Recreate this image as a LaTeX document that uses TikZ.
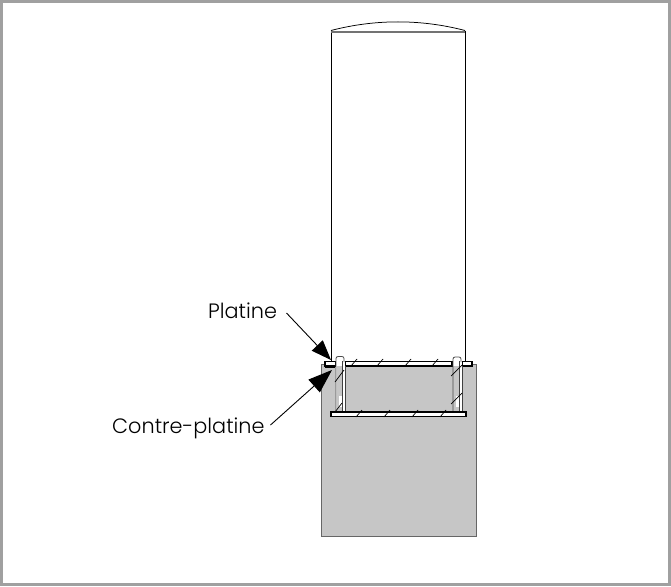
\documentclass[tikz,border=0pt]{standalone}
\usepackage{fontspec}
\setmainfont{Poppins}[UprightFont=* Light]
\usetikzlibrary{arrows.meta}
\definecolor{conc}{RGB}{198,198,198}
\definecolor{frameg}{RGB}{160,160,160}
\tikzset{
  part/.style={draw=black,line width=1.1pt,line join=miter},
  wall/.style={draw=black,line width=0.75pt},
  thin part/.style={draw=black!70,line width=0.8pt},
  rodline/.style={draw=black!75,line width=0.9pt},
  tick/.style={draw=black,line width=0.7pt},
  leader/.style={draw=black,line width=0.9pt},
  tipa/.style={-{Triangle[length=20pt,width=15pt]}},
  tipb/.style={-{Triangle[length=24pt,width=17pt]}},
  lab/.style={font=\fontsize{20.8pt}{24pt}\selectfont,text=black,inner sep=0pt}
}
\begin{document}
\begin{tikzpicture}[x=1pt,y=-1pt]
\useasboundingbox (0,0) rectangle (671,586);
\draw[frameg,line width=3pt] (1.5,1.5) rectangle (669.5,584.5);
% concrete block
\fill[conc] (321,364) rectangle (476,536);
\draw[black!60,line width=1pt] (321,364) rectangle (476,536);
% tube
\draw[wall] (331,361) -- (331,31);
\draw[wall] (465,361) -- (465,31);
\draw[black!55,line width=2pt] (331,32.5) -- (465,32.5);
\draw[wall] (331,30.5) .. controls (375,19) and (421,19) .. (465,30.5);
% top plate
\draw[part,fill=white] (345,361.5) rectangle (452,366);
\draw[part,fill=white] (462,361.5) rectangle (472,366);
\draw[part,fill=white] (325,361.5) rectangle (336,366);
\fill[black] (325,365) rectangle (335,367.5);
% rods: white bodies
\fill[white] (336,358) rectangle (345,412);
\fill[white] (452.5,358) rectangle (462,412);
\fill[conc] (337,366) rectangle (342,396);
\fill[conc] (337,396) rectangle (338.5,412);
\fill[conc] (453,366) rectangle (459,396);
\fill[conc] (453,396) rectangle (455.5,412);
\fill[conc] (339,407) rectangle (342,412);
\fill[conc] (455.5,407) rectangle (459,412);
% left bolt
\draw[thin part] (336,412) -- (336,358.5) arc[start angle=180,end angle=270,radius=2] -- (342,356.5) arc[start angle=270,end angle=360,radius=2] -- (344,362);
\draw[rodline] (342.5,361) -- (342.5,412);
\draw[rodline] (345.5,366) -- (345.5,412);
% right bolt
\draw[thin part] (453,412) -- (453,359) arc[start angle=180,end angle=270,radius=2] -- (459,357) arc[start angle=270,end angle=360,radius=2] -- (461,362);
\draw[rodline] (459,361) -- (459,412);
\draw[rodline] (462,366) -- (462,412);
% bottom plate
\draw[part,fill=white] (331,412) rectangle (466,416.5);
% ticks
\foreach \x in {351,377,405,432}{\draw[tick] (\x,366) -- (\x+6,359);}
\foreach \x in {356,384,412,440}{\draw[tick] (\x,417) -- (\x+6,410);}
\draw[tick] (335,382) -- (344,370);
\draw[tick] (335,412) -- (342,403);
\draw[tick] (451,376) -- (462,365);
\draw[tick] (451,404) -- (462,393);
% labels
\node[lab,anchor=base west] (pl) at (208,318) {Platine};
\node[lab,anchor=base west] (cp) at (112,433) {Contre-platine};
\coordinate (ptarget) at (331,360);
\coordinate (ctarget) at (332,370);
\coordinate (pstart) at (286.5,313);
\coordinate (cstart) at (270.5,425);
\draw[leader,tipa] (pstart) -- (ptarget);
\draw[leader,tipb] (cstart) -- (ctarget);
\end{tikzpicture}
\end{document}
